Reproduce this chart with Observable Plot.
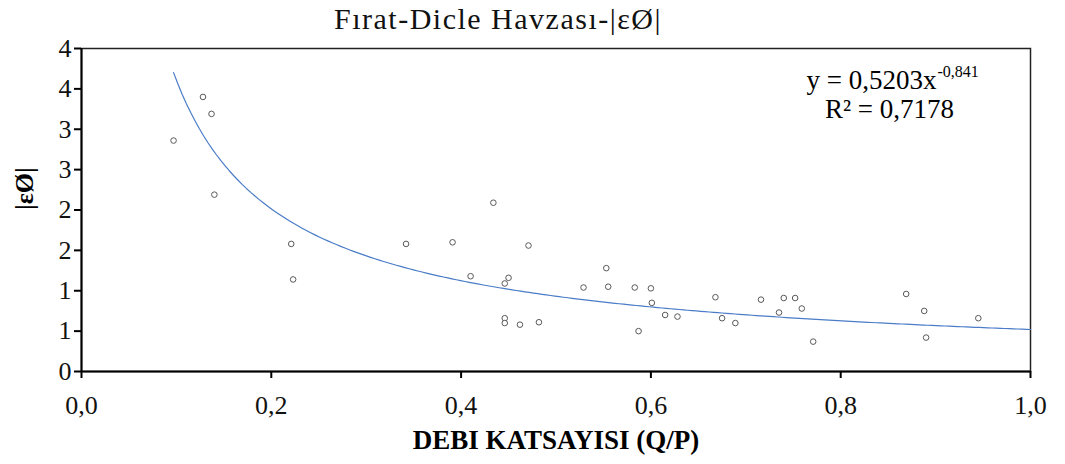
<!DOCTYPE html>
<html>
<head>
<meta charset="utf-8">
<script src="https://cdn.jsdelivr.net/npm/d3@7"></script>
<script src="https://cdn.jsdelivr.net/npm/@observablehq/plot@0.6"></script>
<style>
  html, body { margin: 0; padding: 0; background: #fff; }
  svg text { font-family: "Liberation Serif", "Times New Roman", serif; }
</style>
</head>
<body>
<div id="chart"></div>
<script>
// Data
const qp = [0.097, 0.128, 0.137, 0.140, 0.221, 0.223, 0.342, 0.391, 0.434, 0.471, 0.410, 0.450, 0.446, 0.446, 0.446, 0.462, 0.482, 0.529, 0.553, 0.555, 0.583, 0.600, 0.601, 0.587, 0.615, 0.628, 0.668, 0.675, 0.689, 0.716, 0.735, 0.740, 0.752, 0.759, 0.771, 0.869, 0.888, 0.890, 0.945];
const eps = [2.86, 3.40, 3.19, 2.19, 1.58, 1.14, 1.58, 1.60, 2.09, 1.56, 1.18, 1.16, 1.09, 0.66, 0.60, 0.58, 0.61, 1.04, 1.28, 1.05, 1.04, 1.03, 0.85, 0.50, 0.70, 0.68, 0.92, 0.66, 0.60, 0.89, 0.73, 0.91, 0.91, 0.78, 0.37, 0.96, 0.75, 0.42, 0.66];

// Power trendline shown on the chart: y = 0,5203 x^-0,841
const trendA = 0.5203;
const trendB = -0.841;
const trendStart = 0.097;
const trendEnd = 1.0;

const xTicks = [0, 0.2, 0.4, 0.6, 0.8, 1.0];
const yTicks = [0, 0.5, 1, 1.5, 2, 2.5, 3, 3.5, 4];

const titleText = "Fırat-Dicle Havzası-|εØ|";
const xLabel = "DEBI KATSAYISI (Q/P)";
const yLabel = "|εØ|";
const eqMain = "y = 0,5203x";
const eqSup = "-0,841";
const r2Text = "R² = 0,7178";

const points = qp.map((x, i) => ({x, y: eps[i]}));
const trend = d3.range(0, 201).map(i => {
  const x = trendStart + (trendEnd - trendStart) * i / 200;
  return {x, y: trendA * Math.pow(x, trendB)};
});

const serif = "Liberation Serif, Times New Roman, serif";

const chart = Plot.plot({
  width: 1065,
  height: 464,
  marginLeft: 81,
  marginRight: 35,
  marginTop: 48,
  marginBottom: 93,
  style: {fontFamily: serif, fontSize: "26px", color: "#000", background: "#fff", overflow: "visible"},
  x: {domain: [0, 1], ticks: xTicks},
  y: {domain: [0, 4], ticks: yTicks},
  marks: [
    Plot.frame({stroke: "#222", strokeWidth: 1.5}),
    Plot.axisX({ticks: xTicks, tickSize: 7, tickPadding: 17, tickFormat: d => d.toFixed(1).replace(".", ","), label: null, stroke: "#000", strokeWidth: 2, fontSize: 26, fill: "#111"}),
    Plot.axisY({ticks: yTicks, tickSize: 7, tickPadding: 3, tickFormat: d => String(Math.round(d)), label: null, stroke: "#000", strokeWidth: 2, fontSize: 26, fill: "#111"}),
    Plot.ruleY([0], {stroke: "#000", strokeWidth: 2}),
    Plot.ruleX([0], {stroke: "#000", strokeWidth: 2}),
    Plot.line(trend, {x: "x", y: "y", stroke: "#4a7cc7", strokeWidth: 1.2}),
    Plot.dot(points, {x: "x", y: "y", r: 2.8, stroke: "#595959", fill: "white", strokeWidth: 1}),
    Plot.text([titleText], {frameAnchor: "top", dx: -58, dy: -29, fontSize: 30, fill: "#111", lineAnchor: "middle", fontFamily: serif}),
    Plot.text([xLabel], {frameAnchor: "bottom", dy: 69, fontSize: 27, fontWeight: "bold", fill: "#000", lineAnchor: "middle", fontFamily: serif}),
    Plot.text([yLabel], {frameAnchor: "left", dx: -57, rotate: -90, fontSize: 26, fontWeight: "bold", fill: "#000", lineAnchor: "middle", fontFamily: serif}),
    Plot.text([eqMain], {frameAnchor: "top-right", dx: -94, dy: 32, textAnchor: "end", fontSize: 27, fill: "#000", lineAnchor: "middle", fontFamily: serif}),
    Plot.text([eqSup], {frameAnchor: "top-right", dx: -93, dy: 23, textAnchor: "start", fontSize: 16, fill: "#000", lineAnchor: "middle", fontFamily: serif}),
    Plot.text([r2Text], {frameAnchor: "top-right", dx: -141, dy: 61, textAnchor: "middle", fontSize: 27, fill: "#000", lineAnchor: "middle", fontFamily: serif})
  ]
});
d3.select(chart).selectAll("text").attr("font-family", serif);
// slight letter spacing on the title, as in the reference
d3.select(chart).selectAll("text").filter(function() { return this.textContent === titleText; }).attr("letter-spacing", "1.5px");
document.getElementById("chart").appendChild(chart);
</script>
</body>
</html>
